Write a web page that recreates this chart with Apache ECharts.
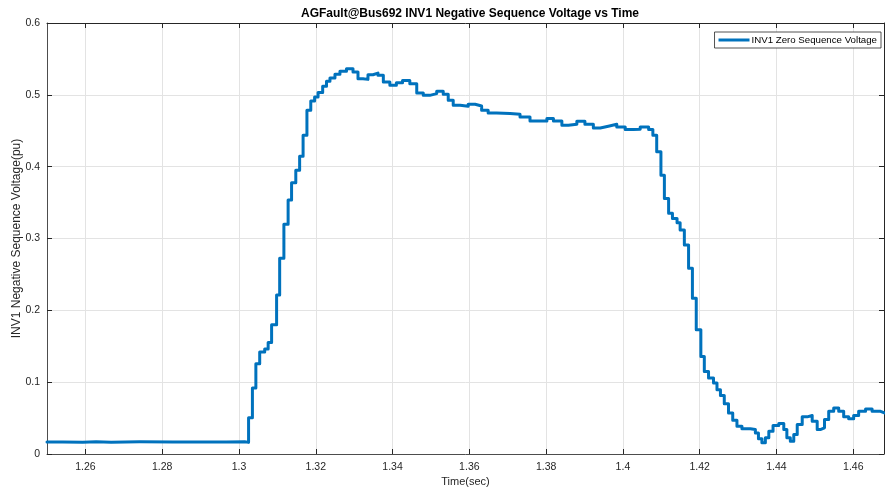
<!DOCTYPE html>
<html>
<head>
<meta charset="utf-8">
<script src="https://cdn.jsdelivr.net/npm/echarts@6/dist/echarts.min.js"></script>
<style>
html,body{margin:0;padding:0;background:#fff;}
#chart{width:885px;height:491px;}
</style>
</head>
<body>
<div id="chart"></div>
<script>
// ---- data ----
var titleText = 'AGFault@Bus692 INV1 Negative Sequence Voltage vs Time';
var seriesName = 'INV1 Zero Sequence Voltage';
var xAxisName = 'Time(sec)';
var yAxisName = 'INV1 Negative Sequence Voltage(pu)';
var xTicks = [1.26, 1.28, 1.3, 1.32, 1.34, 1.36, 1.38, 1.4, 1.42, 1.44, 1.46];

var timeSec = [
  1.2500, 1.2541, 1.2593, 1.2628, 1.2667, 1.2741, 1.2828, 1.2915, 1.2967, 1.3015,
  1.3025, 1.3035, 1.3044, 1.3054, 1.3067, 1.3076, 1.3085, 1.3098, 1.3106, 1.3117,
  1.3128, 1.3137, 1.3148, 1.3158, 1.3167, 1.3177, 1.3187, 1.3197, 1.3206, 1.3218,
  1.3228, 1.3237, 1.3250, 1.3263, 1.3280, 1.3297, 1.3310, 1.3323, 1.3336, 1.3349,
  1.3362, 1.3376, 1.3393, 1.3410, 1.3426, 1.3445, 1.3463, 1.3480, 1.3497, 1.3515,
  1.3532, 1.3545, 1.3558, 1.3576, 1.3597, 1.3615, 1.3632, 1.3649, 1.3671, 1.3706,
  1.3732, 1.3758, 1.3776, 1.3802, 1.3819, 1.3841, 1.3858, 1.3880, 1.3901, 1.3923,
  1.3941, 1.3962, 1.3984, 1.4006, 1.4027, 1.4045, 1.4067, 1.4078, 1.4088, 1.4099,
  1.4108, 1.4119, 1.4129, 1.4141, 1.4149, 1.4160, 1.4171, 1.4181, 1.4191, 1.4203,
  1.4212, 1.4223, 1.4236, 1.4245, 1.4254, 1.4264, 1.4275, 1.4286, 1.4297, 1.4310,
  1.4332, 1.4345, 1.4353, 1.4362, 1.4371, 1.4380, 1.4391, 1.4406, 1.4419, 1.4427,
  1.4436, 1.4445, 1.4454, 1.4467, 1.4480, 1.4493, 1.4506, 1.4514, 1.4525, 1.4536,
  1.4549, 1.4562, 1.4575, 1.4588, 1.4601, 1.4614, 1.4632, 1.4649, 1.4671, 1.4681
];

var voltagePu = [
  0.0168, 0.0162, 0.0172, 0.0164, 0.0170, 0.0167, 0.0167, 0.0166, 0.0170, 0.0162,
  0.0503, 0.0919, 0.1257, 0.1420, 0.1461, 0.1553, 0.1799, 0.2215, 0.2725, 0.3197,
  0.3535, 0.3775, 0.3951, 0.4146, 0.4438, 0.4785, 0.4914, 0.4969, 0.5031, 0.5118,
  0.5188, 0.5233, 0.5285, 0.5330, 0.5364, 0.5317, 0.5225, 0.5215, 0.5280, 0.5303,
  0.5271, 0.5178, 0.5132, 0.5169, 0.5201, 0.5156, 0.5025, 0.4993, 0.5017, 0.5049,
  0.5007, 0.4924, 0.4854, 0.4840, 0.4868, 0.4844, 0.4785, 0.4747, 0.4739, 0.4729,
  0.4692, 0.4636, 0.4636, 0.4669, 0.4636, 0.4576, 0.4590, 0.4632, 0.4590, 0.4539,
  0.4563, 0.4590, 0.4553, 0.4517, 0.4521, 0.4553, 0.4517, 0.4438, 0.4206, 0.3882,
  0.3558, 0.3350, 0.3280, 0.3220, 0.3118, 0.2910, 0.2586, 0.2169, 0.1729, 0.1358,
  0.1150, 0.1058, 0.0989, 0.0896, 0.0813, 0.0701, 0.0572, 0.0469, 0.0386, 0.0350,
  0.0340, 0.0294, 0.0211, 0.0156, 0.0225, 0.0317, 0.0396, 0.0424, 0.0340, 0.0225,
  0.0178, 0.0271, 0.0410, 0.0517, 0.0535, 0.0456, 0.0340, 0.0364, 0.0479, 0.0594,
  0.0642, 0.0594, 0.0517, 0.0489, 0.0535, 0.0594, 0.0628, 0.0594, 0.0572, 0.0572
];

// ---- chart ----
var points = timeSec.map(function (t, i) { return [t, voltagePu[i]]; });
var font = 'Liberation Sans, Arial, Helvetica, sans-serif';
var axisColor = '#4d4d4d';
var gridColor = '#e3e3e3';

var chart = echarts.init(document.getElementById('chart'), null, {renderer: 'canvas'});
chart.setOption({
  animation: false,
  backgroundColor: '#ffffff',
  textStyle: {fontFamily: font},
  title: {
    text: titleText,
    left: 465, textAlign: 'center', top: 3,
    textStyle: {fontSize: 12, fontWeight: 'bold', color: '#000', fontFamily: font}
  },
  legend: {
    right: 4, top: 32,
    icon: 'rect', itemWidth: 31, itemHeight: 3,
    padding: [3, 4, 3, 4],
    borderColor: '#262626', borderWidth: 0.8, borderRadius: 0,
    backgroundColor: '#fff',
    textStyle: {fontSize: 9.7, color: '#000', fontFamily: font, padding: [0, 0, 0, -3]},
    data: [seriesName]
  },
  grid: {left: 47, right: 1, top: 23, bottom: 37, containLabel: false, outerBoundsMode: 'none'},
  xAxis: [{
    type: 'value', min: 1.25, max: 1.468,
    name: xAxisName, nameLocation: 'middle', nameGap: 22,
    nameMoveOverlap: false,
    nameTextStyle: {fontSize: 11, color: '#262626', fontFamily: font},
    axisLine: {show: true, onZero: false, lineStyle: {color: axisColor, width: 1}},
    axisTick: {show: true, inside: true, length: 5, customValues: xTicks, lineStyle: {color: '#262626'}},
    axisLabel: {show: true, customValues: xTicks, fontSize: 10.5, color: '#262626', margin: 8, fontFamily: font},
    splitLine: {show: true, lineStyle: {color: gridColor, width: 1}}
  }, {
    type: 'value', min: 1.25, max: 1.468, position: 'top',
    axisLine: {show: true, onZero: false, lineStyle: {color: '#262626', width: 1}},
    axisTick: {show: true, inside: true, length: 5, customValues: xTicks, lineStyle: {color: '#262626'}},
    axisLabel: {show: false},
    splitLine: {show: false}
  }],
  yAxis: [{
    type: 'value', min: 0, max: 0.6, interval: 0.1,
    name: yAxisName, nameLocation: 'middle', nameGap: 24, nameRotate: 90,
    nameMoveOverlap: false,
    nameTextStyle: {fontSize: 12, color: '#262626', fontFamily: font},
    axisLine: {show: true, onZero: false, lineStyle: {color: axisColor, width: 1}},
    axisTick: {show: true, inside: true, length: 5, lineStyle: {color: '#262626'}},
    axisLabel: {show: true, fontSize: 10.5, color: '#262626', margin: 7, fontFamily: font},
    splitLine: {show: true, lineStyle: {color: gridColor, width: 1}}
  }, {
    type: 'value', min: 0, max: 0.6, interval: 0.1, position: 'right',
    axisLine: {show: true, onZero: false, lineStyle: {color: '#262626', width: 1}},
    axisTick: {show: true, inside: true, length: 5},
    axisLabel: {show: false},
    splitLine: {show: false}
  }],
  series: [{
    name: seriesName,
    type: 'line',
    step: 'end',
    data: points,
    showSymbol: false,
    symbol: 'none',
    clip: true,
    lineStyle: {color: '#0072BD', width: 3, join: 'round', cap: 'round'},
    itemStyle: {color: '#0072BD'}
  }]
});
</script>
</body>
</html>
